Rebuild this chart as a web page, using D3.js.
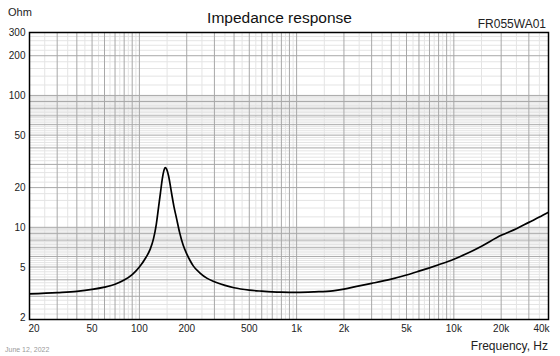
<!DOCTYPE html>
<html><head><meta charset="utf-8">
<script src="https://cdn.jsdelivr.net/npm/d3@7"></script>
<style>body{margin:0;background:#fff}svg{display:block}</style>
</head><body>
<script>
// ---- data ----
const frequencies = [20,30,40,50,60,70,80,90,100,110,117,123,128,132,136,140,143,146,149,153,157,161,166,172,180,190,200,210,220,243,270,300,350,400,500,600,700,800,1000,1300,1700,2000,2500,3000,4000,5000,6000,7000,8000,10000,12000,15000,20000,25000,30000,35000,40000];
const impedance   = [3.13,3.20,3.27,3.38,3.52,3.70,3.98,4.38,5.0,5.9,6.8,8.2,10.5,13.8,18.1,23.5,26.8,28.4,27.6,24.8,21.0,17.5,14.3,11.8,9.2,7.3,6.3,5.6,5.1,4.5,4.1,3.87,3.63,3.48,3.34,3.28,3.24,3.22,3.21,3.24,3.30,3.40,3.60,3.76,4.05,4.35,4.65,4.93,5.2,5.72,6.3,7.2,8.7,9.75,10.9,11.95,13.0];
const xTickValues = [20,50,100,200,500,1000,2000,5000,10000,20000,40000];
const xTickLabels = ["20","50","100","200","500","1k","2k","5k","10k","20k","40k"];
const yTickValues = [2,5,10,20,50,100,200,300];
const yTickLabels = ["2","5","10","20","50","100","200","300"];

const W = 560, H = 356;
const L = 29.5, R = 548.5, T = 32.5, B = 319.5;
const FONT = "'Liberation Sans', Arial, sans-serif";

const svg = d3.select("body").append("svg").attr("width", W).attr("height", H)
  .style("font-family", FONT);

const x = d3.scaleLog().domain([20, 40000]).range([L, R]);
const y = d3.scaleLog().domain([2, 300]).range([B, T]);

// ---- grid positions ----
const xMajor = [], xMinor = [];
for (let dec = 10; dec <= 10000; dec *= 10) {
  for (let m = 1; m <= 9; m++) {
    const v = m * dec;
    if (v > 20 && v < 40000) xMajor.push(v);
    const h = (m + 0.5) * dec;
    if (h > 20 && h < 40000) xMinor.push(h);
  }
}
const yMajor = [], yMinor = [];
for (let dec = 1; dec <= 100; dec *= 10) {
  for (let m = 1; m <= 9; m++) {
    const v = m * dec;
    if (v > 2 && v < 300) yMajor.push(v);
    for (let k = 1; k < 5; k++) {
      const h = (m + k * 0.2) * dec;
      if (h > 2 && h < 300) yMinor.push(h);
    }
  }
}

const g = svg.append("g");
g.selectAll("line.yminor").data(yMinor).join("line")
  .attr("x1", L).attr("x2", R).attr("y1", d => y(d)).attr("y2", d => y(d))
  .attr("stroke", "#e4e4e4").attr("stroke-width", 1);
g.selectAll("line.xminor").data(xMinor).join("line")
  .attr("y1", T).attr("y2", B).attr("x1", d => x(d)).attr("x2", d => x(d))
  .attr("stroke", "#e4e4e4").attr("stroke-width", 1);
g.selectAll("line.ymajor").data(yMajor).join("line")
  .attr("x1", L).attr("x2", R).attr("y1", d => y(d)).attr("y2", d => y(d))
  .attr("stroke", "#a8a8a8").attr("stroke-width", 1);
g.selectAll("line.xmajor").data(xMajor).join("line")
  .attr("y1", T).attr("y2", B).attr("x1", d => x(d)).attr("x2", d => x(d))
  .attr("stroke", "#a8a8a8").attr("stroke-width", 1);

// ---- curve ----
const pts = frequencies.map((f, i) => [f, impedance[i]]);
svg.append("path")
  .attr("d", d3.line().x(d => x(d[0])).y(d => y(d[1])).curve(d3.curveMonotoneX)(pts))
  .attr("fill", "none").attr("stroke", "#000").attr("stroke-width", 1.7)
  .attr("stroke-linejoin", "round");

// ---- frame ----
svg.append("rect").attr("x", L).attr("y", T).attr("width", R - L).attr("height", B - T)
  .attr("fill", "none").attr("stroke", "#000").attr("stroke-width", 1.5);

// ---- axes labels ----
svg.selectAll("text.xt").data(xTickValues).join("text")
  .attr("x", (d, i) => i === 0 ? x(d) - 1 : (i === xTickValues.length - 1 ? x(d) + 1 : x(d)))
  .attr("y", 332)
  .attr("text-anchor", (d, i) => i === 0 ? "start" : (i === xTickValues.length - 1 ? "end" : "middle"))
  .attr("font-size", 10).attr("fill", "#222")
  .text((d, i) => xTickLabels[i]);

svg.selectAll("text.yt").data(yTickValues).join("text")
  .attr("x", 25.5)
  .attr("y", d => Math.min(y(d), B - 2) + 3.5)
  .attr("text-anchor", "end")
  .attr("font-size", 10).attr("fill", "#222")
  .text((d, i) => yTickLabels[i]);

svg.append("text").attr("x", 8).attr("y", 16).attr("font-size", 11).attr("fill", "#222").text("Ohm");
svg.append("text").attr("x", 279.5).attr("y", 23).attr("text-anchor", "middle")
  .attr("font-size", 15.5).attr("fill", "#111").text("Impedance response");
svg.append("text").attr("x", 546).attr("y", 28).attr("text-anchor", "end")
  .attr("font-size", 12).attr("fill", "#222").text("FR055WA01");
svg.append("text").attr("x", 548).attr("y", 349.5).attr("text-anchor", "end")
  .attr("font-size", 12).attr("fill", "#222").text("Frequency, Hz");
svg.append("text").attr("x", 5).attr("y", 351.5)
  .attr("font-size", 7).attr("fill", "#9a9a9a").text("June 12, 2022");
</script>
</body></html>
